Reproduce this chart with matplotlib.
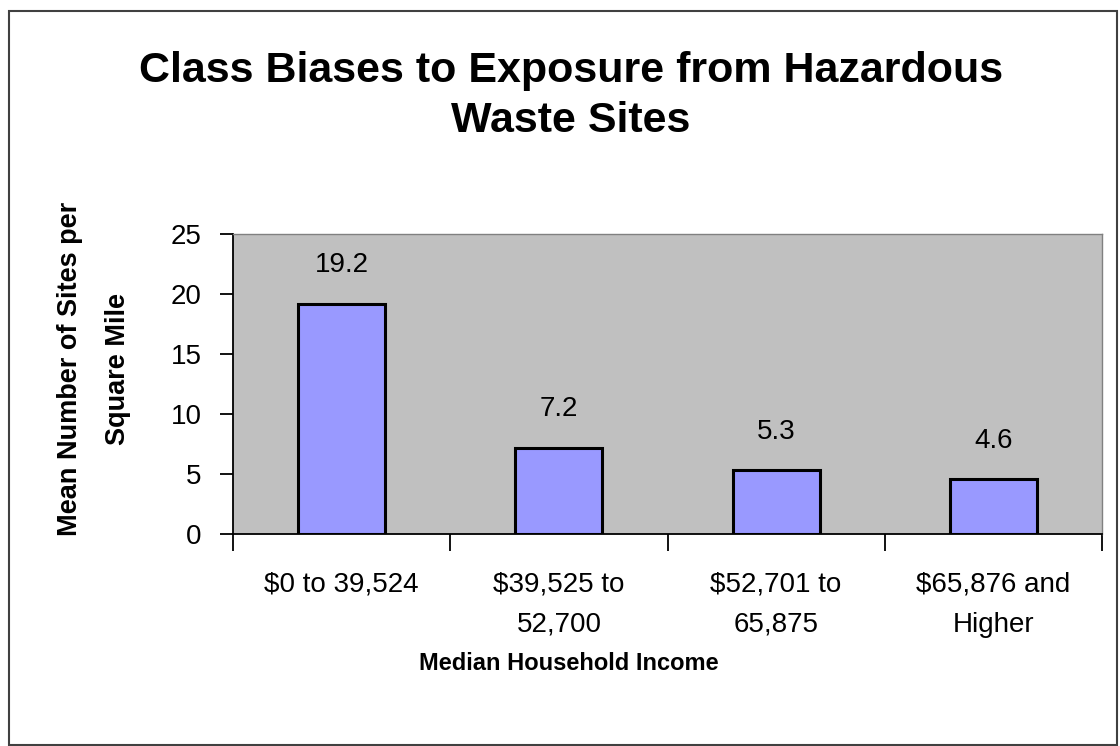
import matplotlib.pyplot as plt
import matplotlib.patches as patches
import numpy as np

categories = ['$0 to 39,524', '$39,525 to\n52,700', '$52,701 to\n65,875', '$65,876 and\nHigher']
values = [19.2, 7.2, 5.3, 4.6]
yticks = [0, 5, 10, 15, 20, 25]

plt.rcParams['font.family'] = ['Liberation Sans', 'DejaVu Sans']

fig = plt.figure(figsize=(11.2, 7.46), dpi=100)
ax = fig.add_axes([233 / 1120, 1 - 534 / 746, (1102 - 233) / 1120, 300 / 746])
ax.set_facecolor('#c0c0c0')

x = np.arange(len(values))
ax.bar(x, values, width=0.4, color='#9999ff', edgecolor='black', linewidth=2.2, zorder=3)
for xi, v in zip(x, values):
    ax.text(xi, v + 2.1, f'{v:.1f}', ha='center', va='bottom', fontsize=20)

ax.set_xlim(-0.5, len(values) - 0.5)
ax.set_ylim(0, 25)
ax.set_yticks(yticks)
ax.set_yticklabels([str(t) for t in yticks], fontsize=20)
ax.tick_params(axis='y', direction='out', length=9.5, width=1.3, pad=13)

ax.set_xticks(x)
ax.set_xticklabels(categories, fontsize=20, linespacing=1.7)
ax.tick_params(axis='x', which='major', length=0, pad=27)
ax.set_xticks(np.arange(-0.5, len(values)), minor=True)
ax.tick_params(axis='x', which='minor', direction='out', length=12, width=1.3)

for s in ['left', 'bottom']:
    ax.spines[s].set_color('black')
    ax.spines[s].set_linewidth(1.3)
for s in ['top', 'right']:
    ax.spines[s].set_color('#808080')
    ax.spines[s].set_linewidth(1.0)

fig.text(571 / 1120, 1 - 96 / 746, 'Class Biases to Exposure from Hazardous\nWaste Sites',
         ha='center', va='center', fontsize=31, fontweight='bold', linespacing=1.3)
fig.text(94 / 1120, 1 - 369 / 746, 'Mean Number of Sites per\nSquare Mile', rotation=90,
         ha='center', va='center', fontsize=19.5, fontweight='bold', linespacing=2.1)
fig.text(569 / 1120, 1 - 664 / 746, 'Median Household Income',
         ha='center', va='center', fontsize=17, fontweight='bold')

fig.patches.append(patches.Rectangle((9 / 1120, 1 / 746), 1108 / 1120, 734 / 746,
                                     transform=fig.transFigure, fill=False,
                                     edgecolor='#404040', linewidth=1.5))

fig.savefig('out.png', dpi=100)
